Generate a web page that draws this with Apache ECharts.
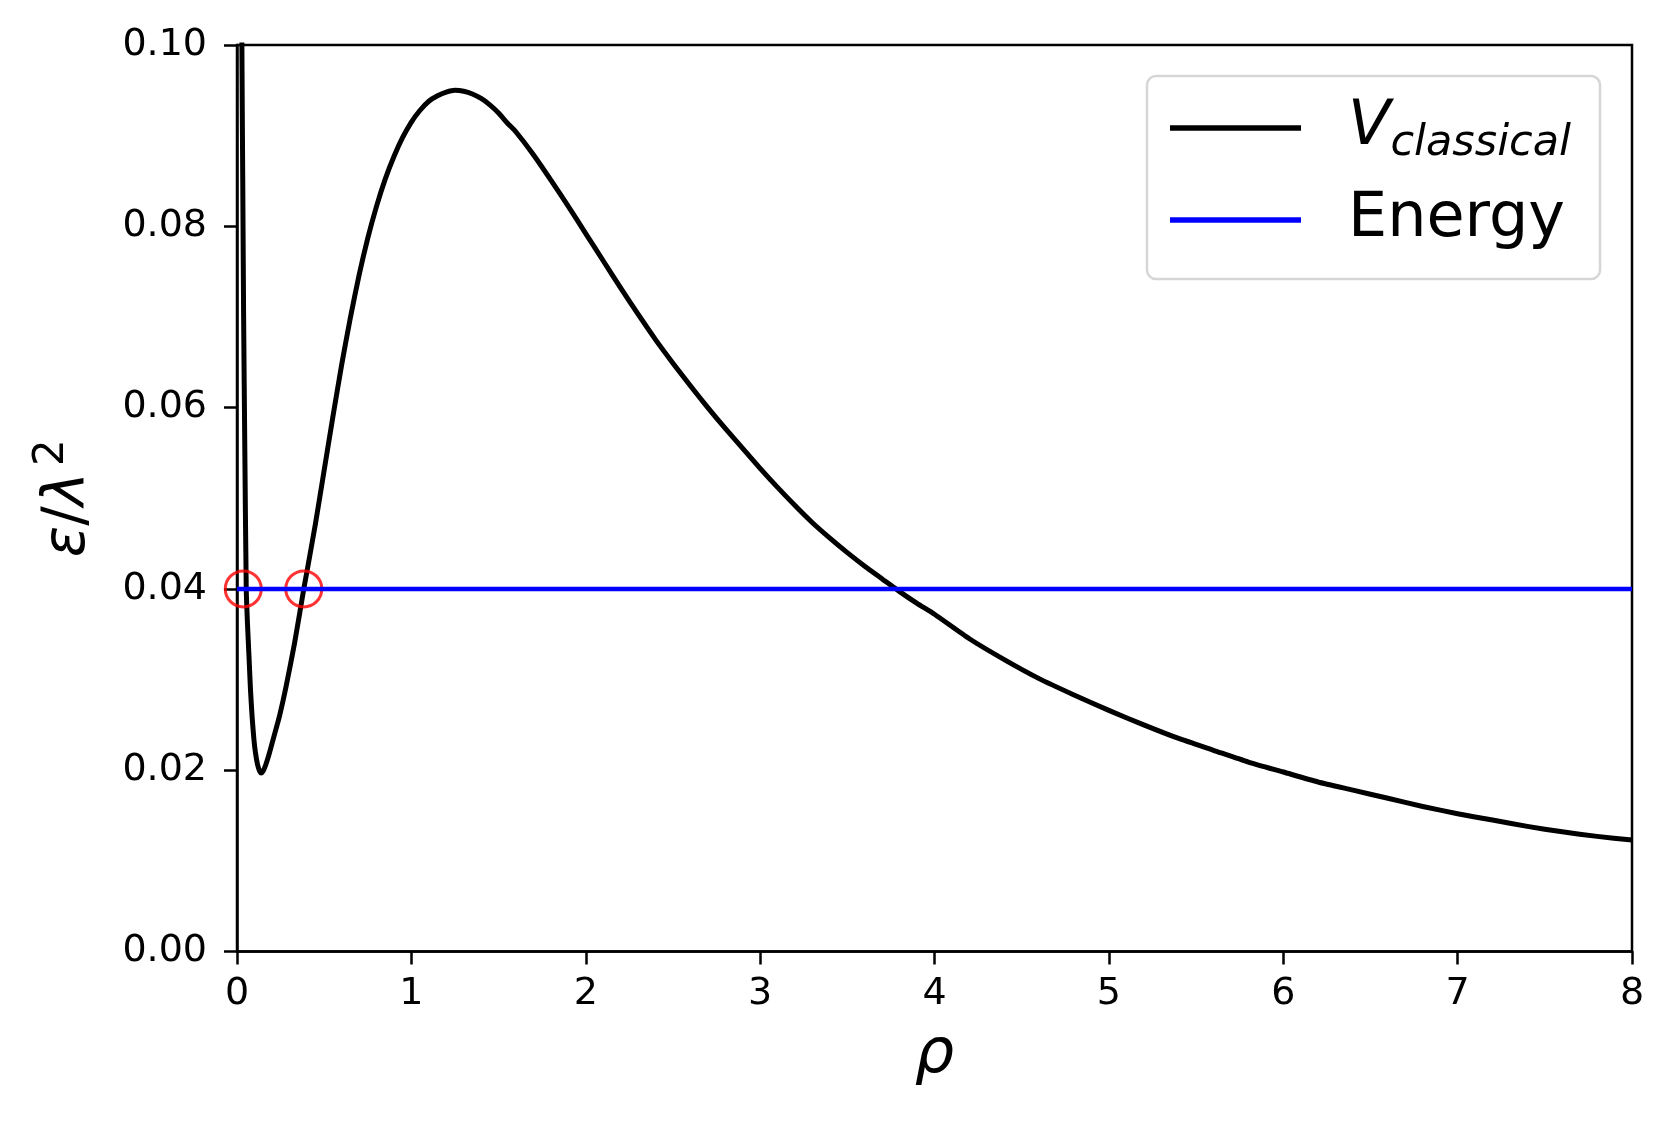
<!DOCTYPE html>
<html>
<head>
<meta charset="utf-8">
<script src="https://cdn.jsdelivr.net/npm/echarts@6/dist/echarts.min.js"></script>
<style>
  html, body { margin: 0; padding: 0; background: #fff; }
  #chart { width: 1675px; height: 1127px; }
</style>
</head>
<body>
<div id="chart"></div>
<script>
const rhoValues = [0.024, 0.028, 0.033, 0.038, 0.045, 0.053, 0.06, 0.068, 0.077, 0.087,
  0.097, 0.106, 0.118, 0.13, 0.139, 0.15, 0.165, 0.186, 0.21, 0.244, 0.28, 0.33, 0.383,
  0.4, 0.45, 0.5, 0.55, 0.6, 0.65, 0.7, 0.75, 0.8, 0.85, 0.9, 0.95, 1.0, 1.05, 1.1,
  1.15, 1.2, 1.25, 1.3, 1.35, 1.4, 1.45, 1.5, 1.55, 1.6, 1.7, 1.8, 1.9, 2.0, 2.1,
  2.2, 2.3, 2.4, 2.5, 2.6, 2.7, 2.8, 2.9, 3.0, 3.1, 3.2, 3.3, 3.4, 3.5, 3.6, 3.7,
  3.8, 3.9, 4.0, 4.2, 4.4, 4.6, 4.8, 5.0, 5.2, 5.4, 5.6, 5.8, 6.0, 6.2, 6.4, 6.6,
  6.8, 7.0, 7.2, 7.4, 7.6, 7.8, 8.0];
const vClassical = [0.13, 0.1, 0.085, 0.07, 0.055, 0.04, 0.0362, 0.0329, 0.029, 0.0258,
  0.0234, 0.0219, 0.0206, 0.0199, 0.0197, 0.0199, 0.0206, 0.0219, 0.0236, 0.026, 0.0291, 0.034, 0.04,
  0.0418, 0.0472, 0.0531, 0.059, 0.0647, 0.0699, 0.0746, 0.0787, 0.0822, 0.0852, 0.0877, 0.0898, 0.0915, 0.0928, 0.0938,
  0.0944, 0.0948, 0.095, 0.0949, 0.0946, 0.0941, 0.0934, 0.0925, 0.0914, 0.0904, 0.0879, 0.0851, 0.0822, 0.0792, 0.0762,
  0.0732, 0.0703, 0.0675, 0.0649, 0.0624, 0.06, 0.0577, 0.0555, 0.0533, 0.0512, 0.0492, 0.0473, 0.0456, 0.044, 0.0425, 0.0411,
  0.0397, 0.0384, 0.0372, 0.0345, 0.0322, 0.0301, 0.0283, 0.0266, 0.025, 0.0235, 0.0222, 0.0209, 0.0198, 0.0187, 0.0178, 0.0169,
  0.016, 0.0152, 0.0145, 0.0138, 0.0132, 0.0127, 0.0123];

// energy level and where it meets the potential (red circles)
const energyRho = [0, 8];
const energyLevel = 0.04;
const turningRho = [0.036, 0.383];

const xTicks = [0, 1, 2, 3, 4, 5, 6, 7, 8];
const yTicks = [0, 0.02, 0.04, 0.06, 0.08, 0.1];

const FONT = "DejaVu Sans";

const chart = echarts.init(document.getElementById("chart"), null, { renderer: "canvas" });

const axisCommon = {
  axisLine: { show: true, onZero: false, lineStyle: { color: "#000", width: 2.5 } },
  axisTick: { show: true, inside: false, length: 13, lineStyle: { color: "#000", width: 2.5 } },
  splitLine: { show: false },
};

const option = {
  animation: false,
  backgroundColor: "#fff",
  grid: {
    left: 237, right: 43, top: 45, bottom: 175.5,
    show: true, borderColor: "#000", borderWidth: 2.5, backgroundColor: "transparent",
  },
  xAxis: {
    type: "value",
    min: xTicks[0], max: xTicks[xTicks.length - 1], interval: 1,
    ...axisCommon,
    axisLabel: { margin: 24, color: "#000", fontFamily: FONT, fontSize: 38 },
    name: "ρ",
    nameLocation: "middle",
    nameGap: 73,
    nameTextStyle: { color: "#000", fontFamily: FONT, fontSize: 62, fontStyle: "italic", lineHeight: 62 },
  },
  yAxis: {
    type: "value",
    min: yTicks[0], max: yTicks[yTicks.length - 1], interval: 0.02,
    ...axisCommon,
    axisLabel: {
      margin: 30, color: "#000", fontFamily: FONT, fontSize: 38,
      formatter: (v) => v.toFixed(2),
    },
    name: "{e|ε}{s|/}{l|λ}{sup|2}",
    nameLocation: "middle",
    nameRotate: 90,
    nameGap: 138,
    nameTextStyle: {
      color: "#000", fontFamily: FONT,
      rich: {
        e: { fontSize: 58, fontStyle: "italic", lineHeight: 60, fontFamily: FONT },
        s: { fontSize: 58, lineHeight: 60, fontFamily: FONT },
        l: { fontSize: 58, fontStyle: "italic", lineHeight: 60, fontFamily: FONT },
        sup: { fontSize: 42, lineHeight: 42, padding: [0, 0, 34, 6], fontFamily: FONT },
      },
    },
  },
  legend: {
    data: [
      { name: "V_classical", icon: "rect", itemStyle: { color: "#000" } },
      { name: "Energy", icon: "rect", itemStyle: { color: "#0000ff" } },
    ],
    orient: "vertical",
    left: 1147, top: 76,
    padding: [15, 29, 28, 23],
    itemWidth: 131, itemHeight: 5.5, itemGap: 24,
    backgroundColor: "#fff",
    borderColor: "#d6d6d6", borderWidth: 2.5, borderRadius: 9,
    formatter: (name) => name === "V_classical" ? "{v|V}{sub|classical}" : "{e|Energy}",
    textStyle: {
      color: "#000", fontFamily: FONT,
      rich: {
        v: { fontSize: 62, fontStyle: "italic", lineHeight: 60, padding: [0, 0, 0, 42], fontFamily: FONT },
        sub: { fontSize: 43, fontStyle: "italic", lineHeight: 43, padding: [31, 0, 0, 0], fontFamily: FONT },
        e: { fontSize: 62, lineHeight: 74, padding: [0, 0, 0, 42], fontFamily: FONT },
      },
    },
  },
  series: [
    {
      name: "V_classical",
      type: "line",
      data: rhoValues.map((r, i) => [r, vClassical[i]]),
      symbol: "none",
      smooth: 0.2,
      clip: true,
      lineStyle: { color: "#000", width: 5, join: "round" },
      itemStyle: { color: "#000" },
      z: 2,
    },
    {
      name: "turning points",
      type: "scatter",
      data: turningRho.map((r) => [r, energyLevel]),
      symbol: "circle",
      symbolSize: 36,
      itemStyle: { color: "rgba(0,0,0,0)", borderColor: "#ff0000", borderWidth: 3 },
      z: 3,
    },
    {
      name: "Energy",
      type: "line",
      data: energyRho.map((r) => [r, energyLevel]),
      symbol: "none",
      lineStyle: { color: "#0000ff", width: 4.5 },
      itemStyle: { color: "#0000ff" },
      z: 4,
    },
  ],
};

chart.setOption(option);
</script>
</body>
</html>
